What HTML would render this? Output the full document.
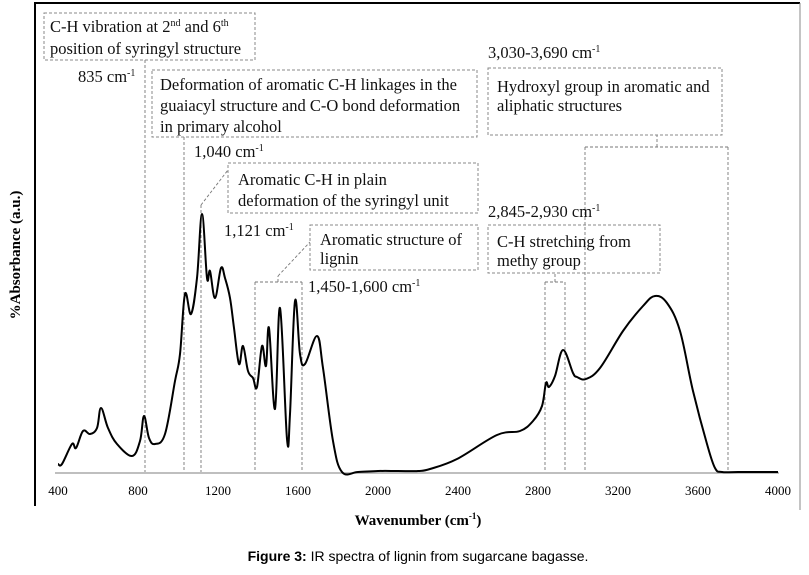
<!DOCTYPE html>
<html><head><meta charset="utf-8"><style>
body{margin:0;background:#fff;}
svg text{font-family:"Liberation Serif",serif;}
</style></head><body>
<svg width="809" height="570" viewBox="0 0 809 570" xmlns="http://www.w3.org/2000/svg">
<path d="M35,506 L35,3 L800,3" fill="none" stroke="#000" stroke-width="2"/>
<line x1="800" y1="3" x2="800" y2="510" stroke="#888" stroke-width="1"/>
<line x1="55" y1="473" x2="779" y2="473" stroke="#999" stroke-width="1.2"/>
<g id="ticks"></g>
<g id="guides" stroke="#777" stroke-width="0.9" stroke-dasharray="3,2" fill="none"></g>
<path id="spectrum" fill="none" stroke="#000" stroke-width="2" stroke-linejoin="round"/>
<g font-size="16.5" fill="#111">
<rect x="44" y="13" width="211" height="47" fill="none" stroke="#888" stroke-dasharray="3,2"/>
<text x="50" y="32">C-H vibration at 2<tspan font-size="10" dy="-6">nd</tspan><tspan dy="6"> and 6</tspan><tspan font-size="10" dy="-6">th</tspan></text>
<text x="50" y="54">position of syringyl structure</text>
<text x="78" y="82">835 cm<tspan font-size="10" dy="-6">-1</tspan></text>
<rect x="152" y="70" width="325" height="67" fill="none" stroke="#888" stroke-dasharray="3,2"/>
<text x="160" y="90">Deformation of aromatic C-H linkages in the</text>
<text x="160" y="111">guaiacyl structure and C-O bond deformation</text>
<text x="160" y="132">in primary alcohol</text>
<text x="194" y="157">1,040 cm<tspan font-size="10" dy="-6">-1</tspan></text>
<rect x="228" y="163" width="250" height="50" fill="none" stroke="#888" stroke-dasharray="3,2"/>
<text x="238" y="185">Aromatic C-H in plain</text>
<text x="238" y="206">deformation of the syringyl unit</text>
<text x="224" y="236">1,121 cm<tspan font-size="10" dy="-6">-1</tspan></text>
<rect x="310" y="225" width="168" height="45" fill="none" stroke="#888" stroke-dasharray="3,2"/>
<text x="320" y="245">Aromatic structure of</text>
<text x="320" y="264">lignin</text>
<text x="308" y="292">1,450-1,600 cm<tspan font-size="10" dy="-6">-1</tspan></text>
<text x="488" y="58">3,030-3,690 cm<tspan font-size="10" dy="-6">-1</tspan></text>
<rect x="488" y="68" width="234" height="67" fill="none" stroke="#888" stroke-dasharray="3,2"/>
<text x="497" y="92">Hydroxyl group in aromatic and</text>
<text x="497" y="111">aliphatic structures</text>
<text x="488" y="217">2,845-2,930 cm<tspan font-size="10" dy="-6">-1</tspan></text>
<rect x="488" y="225" width="172" height="48" fill="none" stroke="#888" stroke-dasharray="3,2"/>
<text x="497" y="247">C-H stretching from</text>
<text x="497" y="266">methy group</text>
</g>
<text x="418" y="525" text-anchor="middle" font-size="15" font-weight="bold">Wavenumber (cm<tspan font-size="9" dy="-6">-1</tspan><tspan dy="6">)</tspan></text>
<text transform="translate(20,255) rotate(-90)" text-anchor="middle" font-size="15" font-weight="bold">%Absorbance (a.u.)</text>
<text x="418" y="561" text-anchor="middle" font-size="14" style="font-family:'Liberation Sans',sans-serif"><tspan font-weight="bold">Figure 3:</tspan> IR spectra of lignin from sugarcane bagasse.</text>
</svg>
<script>
const tickValues=[400,800,1200,1600,2000,2400,2800,3200,3600,4000];
const wavenumbers=[400,420,470,490,525,560,595,615,650,695,770,810,830,855,885,935,985,1010,1035,1065,1095,1120,1145,1160,1185,1215,1235,1260,1280,1305,1325,1350,1375,1395,1420,1440,1455,1485,1510,1545,1560,1585,1610,1635,1695,1725,1775,1820,1900,2000,2100,2200,2260,2395,2595,2710,2775,2820,2840,2855,2885,2925,2975,2995,3040,3110,3225,3325,3385,3445,3510,3575,3645,3685,3720,3800,4000];
const absorbance=[9,9,29,25,42,39,45,65,45,29,17,32,57,35,29,39,92,119,179,159,195,259,195,202,175,205,195,175,145,109,127,102,95,86,127,107,145,64,165,34,59,172,119,109,137,105,32,1,1,2,2,2,4,14,38,42,52,67,90,86,97,123,100,96,94,105,142,167,177,170,142,82,29,5,1,1,1];
const NS='http://www.w3.org/2000/svg';
const xS=w=>58+(w-400)*0.2;
const yS=a=>473-a;
const pts=wavenumbers.map((w,i)=>[xS(w),yS(absorbance[i])]);
let d='M'+pts[0][0].toFixed(1)+','+pts[0][1].toFixed(1);
for(let i=0;i<pts.length-1;i++){
  const p0=pts[i-1]||pts[i],p1=pts[i],p2=pts[i+1],p3=pts[i+2]||p2;
  const t=0.18;
  const c1=[p1[0]+(p2[0]-p0[0])*t,p1[1]+(p2[1]-p0[1])*t];
  const c2=[p2[0]-(p3[0]-p1[0])*t,p2[1]-(p3[1]-p1[1])*t];
  d+='C'+c1[0].toFixed(1)+','+c1[1].toFixed(1)+' '+c2[0].toFixed(1)+','+c2[1].toFixed(1)+' '+p2[0].toFixed(1)+','+p2[1].toFixed(1);
}
document.getElementById('spectrum').setAttribute('d',d);
const tg=document.getElementById('ticks');
tickValues.forEach(v=>{const t=document.createElementNS(NS,'text');
t.setAttribute('x',xS(v));t.setAttribute('y',495);t.setAttribute('text-anchor','middle');t.setAttribute('font-size','13');


t.textContent=v;tg.appendChild(t);});
const guideLines=[[145,60,145,472],[184,137,184,472],[201,205,201,472],[201,205,228,170],[255,282,255,472],[302,282,302,472],[255,282,302,282],[278,282,278,276],[278,276,310,242],[545,282,545,472],[565,282,565,472],[545,282,565,282],[555,282,555,273],[585,147,585,472],[728,147,728,472],[585,147,728,147],[657,147,657,135]];
const gg=document.getElementById('guides');
guideLines.forEach(g=>{const l=document.createElementNS(NS,'line');
l.setAttribute('x1',g[0]);l.setAttribute('y1',g[1]);l.setAttribute('x2',g[2]);l.setAttribute('y2',g[3]);


gg.appendChild(l);});
</script>
</body></html>
